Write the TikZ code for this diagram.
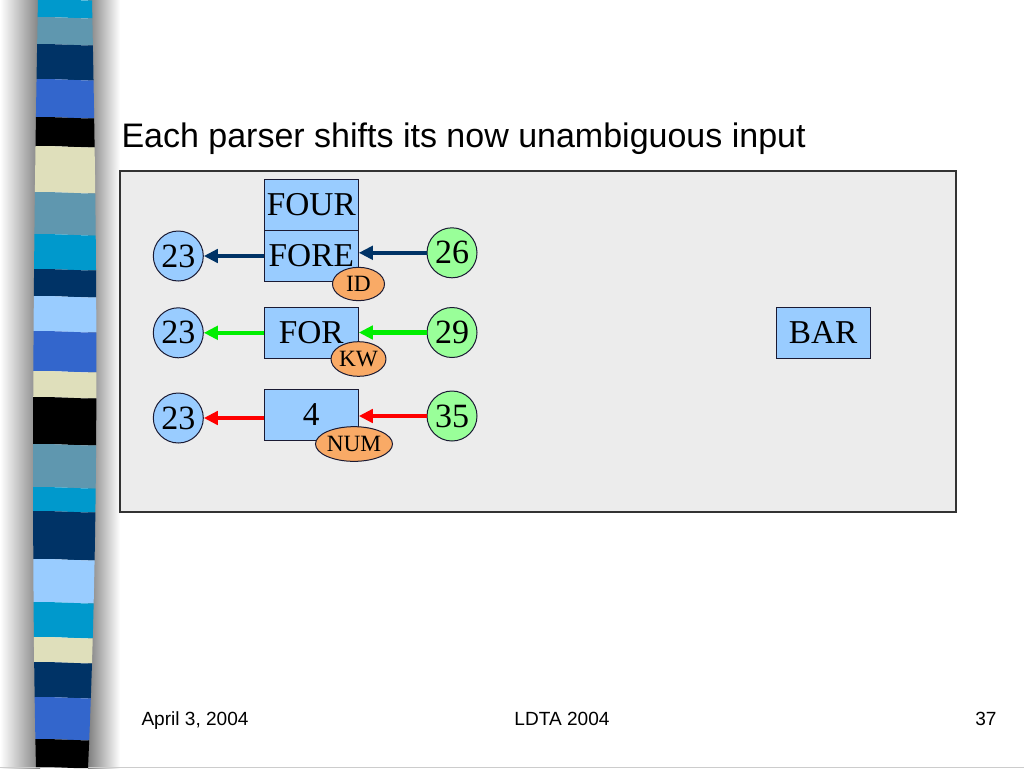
\documentclass[tikz,border=0pt]{standalone}
\usepackage{fontspec}
\setmainfont{Liberation Serif}
\newfontfamily\arialfont{Liberation Sans}
\usetikzlibrary{arrows.meta,shapes.geometric}

\definecolor{boxblue}{HTML}{99CCFF}
\definecolor{stackgreen}{HTML}{99FF99}
\definecolor{kindorange}{HTML}{F9AA66}
\definecolor{edgedark}{HTML}{1A1A33}
\definecolor{panelgrey}{HTML}{ECECEC}
\definecolor{navyline}{HTML}{003366}
\definecolor{greenline}{HTML}{00EE00}
\definecolor{redline}{HTML}{FF0000}
\definecolor{cyanS}{HTML}{0099CC}
\definecolor{steelS}{HTML}{5F97AF}
\definecolor{navyS}{HTML}{003366}
\definecolor{royalS}{HTML}{3366CC}
\definecolor{blackS}{HTML}{000000}
\definecolor{beigeS}{HTML}{DFDFBB}
\definecolor{lightS}{HTML}{99CCFF}

\tikzset{every picture/.style={line width=0.75pt}}
\tikzset{
  tokbox/.style={draw=edgedark, fill=boxblue, minimum width=70.5pt, minimum height=38.25pt, inner sep=0pt, font=\fontsize{25}{25}\selectfont},
  stackl/.style={circle, draw=edgedark, fill=boxblue, minimum size=37.5pt, inner sep=0pt, font=\fontsize{25.5}{25.5}\selectfont},
  stackr/.style={stackl, fill=stackgreen},
  kind/.style={ellipse, draw=edgedark, fill=kindorange, inner sep=0pt, minimum width=39pt, minimum height=25pt, font=\fontsize{17.5}{17.5}\selectfont},
  shiftarr/.style={line width=3.3pt, -{Triangle[length=10.5pt,width=10pt]}},
}

\begin{document}
\begin{tikzpicture}[x=0.75pt,y=0.75pt,yscale=-1,xscale=1]
\useasboundingbox (0,0) rectangle (1024,768);

%Shape: Shadows of the left band
\shade [left color=white, right color=black!50] (0,0) rectangle (40,768);
\shade [left color=black!50, right color=white] (88,0) rectangle (120,768);
\draw [color=black!20] (0,767.5) -- (1024,767.5);

%Shape: Striped band
\begin{scope}
\clip (38,0) .. controls (33,250) and (31,550) .. (36,768) -- (88,768) .. controls (100,500) and (97,250) .. (92,0) -- cycle;
\foreach \ya/\yb/\col in {0/18/cyanS, 18/45/steelS, 45/80/navyS, 80/118/royalS, 118/147/blackS, 147/193/beigeS, 193/235/steelS, 235/270/cyanS, 270/297/navyS, 297/332/lightS, 332/372/royalS, 372/398/beigeS, 398/445/blackS, 445/488/steelS, 488/512/cyanS, 512/560/navyS, 560/603/lightS, 603/638/cyanS, 638/663/beigeS, 663/698/navyS, 698/740/royalS, 740/768/blackS}
  \fill [\col] (20,\ya) .. controls (50,\ya-3) and (80,\ya+2) .. (110,\ya) -- (110,\yb) .. controls (80,\yb+2) and (50,\yb-3) .. (20,\yb) -- cycle;
\end{scope}

% Text Node
\node [anchor=base west, inner sep=0pt, font=\arialfont\fontsize{25.5}{25.5}\selectfont] (title) at (121,147.7) {Each parser shifts its now unambiguous input};

%Shape: Rectangle
\draw [draw=black!80, fill=panelgrey, line width=1.1pt] (120,171) rectangle (956,512);

%Shape: Token boxes
\node [tokbox] (four) at (311.3,204.7) {FOUR};
\node [tokbox] (fore) at (311.3,255.7) {FORE};
\node [tokbox] (for) at (311.3,332.5) {FOR};
\node [tokbox] (num) at (311.3,414.5) {4};
\node [tokbox, minimum width=70.7pt] (bar) at (823.2,332.8) {BAR};

%Shape: Stack circles
\node [stackl] (lA) at (178.3,256) {23};
\node [stackl] (lB) at (178.3,332.8) {23};
\node [stackl] (lC) at (178.3,418) {23};
\node [stackr] (rA) at (452,252.8) {26};
\node [stackr] (rB) at (452,332.5) {29};
\node [stackr] (rC) at (452,416) {35};

%Straight Lines
\draw [shiftarr, color=navyline] (fore.west |- lA) -- (lA.east);
\draw [shiftarr, color=navyline] (rA.west) -- (rA.west -| fore.east);
\draw [shiftarr, color=greenline] (for.west |- lB) -- (lB.east);
\draw [shiftarr, color=greenline] (rB.west) -- (rB.west -| for.east);
\draw [shiftarr, color=redline] (num.west |- lC) -- (lC.east);
\draw [shiftarr, color=redline] (rC.west) -- (rC.west -| num.east);

%Shape: Token kinds
\node [kind] (kid) at (358.5,284) {ID};
\node [kind, minimum height=26pt] (kkw) at (358.5,359) {KW};
\node [kind, minimum width=57.5pt, minimum height=26pt] (knum) at (354,444) {NUM};

% Text Node
\node [anchor=base west, inner sep=0pt, font=\arialfont\fontsize{14.3}{14.3}\selectfont] (date) at (141,725) {April 3, 2004};
% Text Node
\node [anchor=base, inner sep=0pt, font=\arialfont\fontsize{14.3}{14.3}\selectfont] (conf) at (562,725) {LDTA 2004};
% Text Node
\node [anchor=base east, inner sep=0pt, font=\arialfont\fontsize{14.3}{14.3}\selectfont] (page) at (997,725) {37};

\end{tikzpicture}
\end{document}
